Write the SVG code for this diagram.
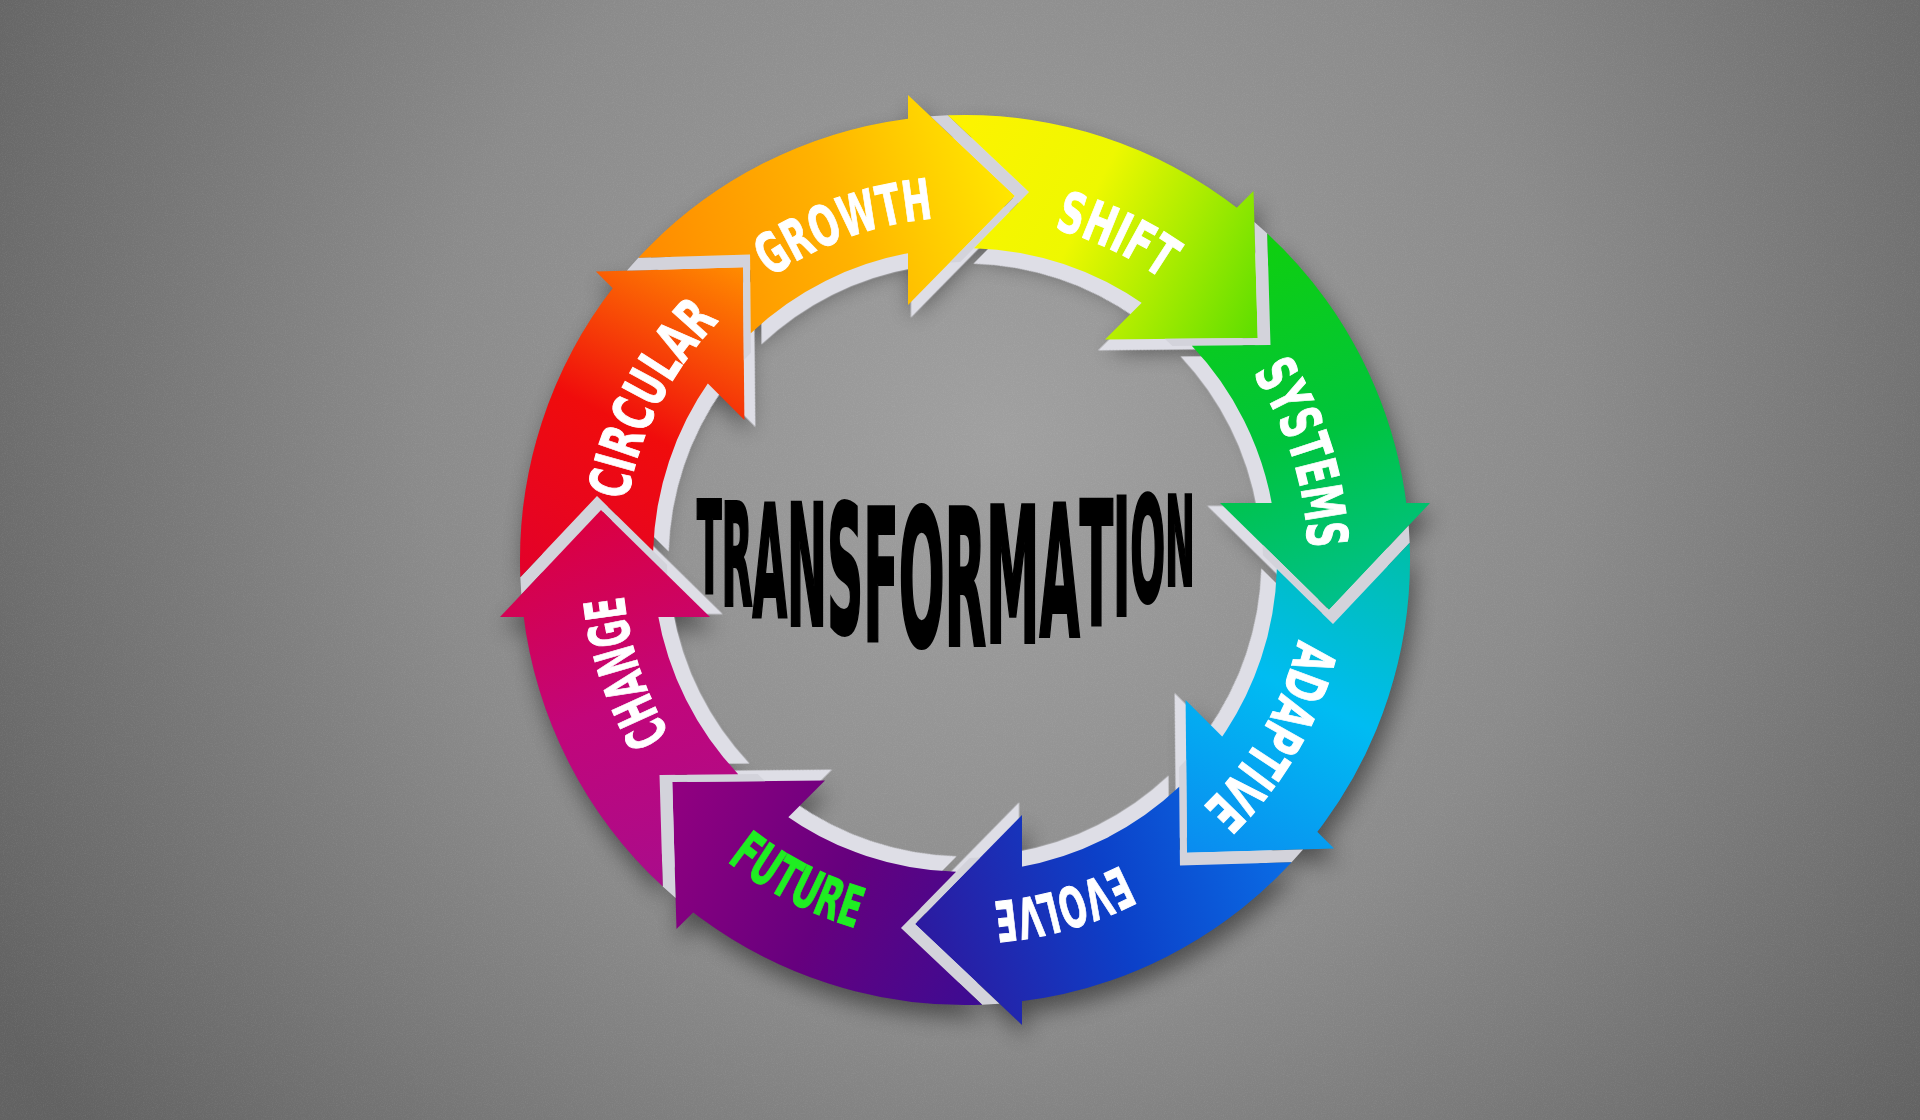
<svg xmlns="http://www.w3.org/2000/svg" width="1920" height="1120" viewBox="0 0 1920 1120">
<style>
.lbl{font-family:"DejaVu Sans","Liberation Sans",sans-serif;font-weight:bold;font-size:56px;fill:#ffffff;stroke:#ffffff;stroke-width:1}
.title{font-family:"DejaVu Sans","Liberation Sans",sans-serif;font-weight:bold;fill:#000000;stroke:#000000;stroke-width:4}
.band{fill:#d3d3db}
.wall{fill:#dedee6}
</style>
<defs>
<radialGradient id="bg" gradientUnits="userSpaceOnUse" cx="1000" cy="440" r="1150">
<stop offset="0" stop-color="#a0a0a0"/><stop offset="0.5" stop-color="#8b8b8b"/><stop offset="1" stop-color="#626262"/>
</radialGradient>
<filter id="noise" x="0" y="0" width="100%" height="100%">
<feTurbulence type="fractalNoise" baseFrequency="0.9" numOctaves="2" seed="4"/>
<feColorMatrix type="matrix" values="0 0 0 0 1 0 0 0 0 1 0 0 0 0 1 1.4 0 0 0 -0.62"/>
</filter>
<filter id="soft" x="-20%" y="-20%" width="140%" height="140%"><feGaussianBlur stdDeviation="11"/></filter>
<path id="shaft" d="M638.39 257.75 A445 445 0 0 1 912 118.17 L912 252.53 A312 312 0 0 0 750.77 333.19 L750.04 254.53 Z"/>
<path id="head" d="M908 95 L1015 196 L908 305 Z"/>
<path id="band" d="M626.95 270.6 L742.97 267.26 L743.83 360.27 L750.95 352.67 L750.04 254.53 L638.39 257.75 Z"/>
<path id="cw" d="M965 217 A343 343 0 1 1 965 903 A343 343 0 1 1 965 217" fill="none"/>
<path id="ccw" d="M965 176 A384 384 0 1 0 965 944 A384 384 0 1 0 965 176" fill="none"/>
<linearGradient id="g-circular" gradientUnits="userSpaceOnUse" x1="650" y1="310" x2="1010" y2="190"><stop offset="0" stop-color="#e2002c"/><stop offset="0.5" stop-color="#f00c0c"/><stop offset="1" stop-color="#ff8a00"/></linearGradient>
<linearGradient id="g-growth" gradientUnits="userSpaceOnUse" x1="650" y1="310" x2="1010" y2="190"><stop offset="0" stop-color="#ff8800"/><stop offset="0.55" stop-color="#ffb300"/><stop offset="1" stop-color="#ffe600"/></linearGradient>
<linearGradient id="g-shift" gradientUnits="userSpaceOnUse" x1="650" y1="310" x2="1010" y2="190"><stop offset="0" stop-color="#fff200"/><stop offset="0.45" stop-color="#eef800"/><stop offset="1" stop-color="#5ede00"/></linearGradient>
<linearGradient id="g-systems" gradientUnits="userSpaceOnUse" x1="650" y1="310" x2="1010" y2="190"><stop offset="0" stop-color="#10d00c"/><stop offset="0.55" stop-color="#00c43c"/><stop offset="1" stop-color="#00c08c"/></linearGradient>
<linearGradient id="g-adaptive" gradientUnits="userSpaceOnUse" x1="650" y1="310" x2="1010" y2="190"><stop offset="0" stop-color="#00bfa4"/><stop offset="0.5" stop-color="#00bcf2"/><stop offset="1" stop-color="#0a8cf0"/></linearGradient>
<linearGradient id="g-evolve" gradientUnits="userSpaceOnUse" x1="650" y1="310" x2="1010" y2="190"><stop offset="0" stop-color="#0a6ee6"/><stop offset="0.5" stop-color="#0c40c8"/><stop offset="1" stop-color="#2c1aa0"/></linearGradient>
<linearGradient id="g-future" gradientUnits="userSpaceOnUse" x1="650" y1="310" x2="1010" y2="190"><stop offset="0" stop-color="#3a0c94"/><stop offset="0.5" stop-color="#66007e"/><stop offset="1" stop-color="#920080"/></linearGradient>
<linearGradient id="g-change" gradientUnits="userSpaceOnUse" x1="650" y1="310" x2="1010" y2="190"><stop offset="0" stop-color="#a80c8c"/><stop offset="0.5" stop-color="#c2067a"/><stop offset="1" stop-color="#dc0040"/></linearGradient>
</defs>

<g id="background">
<rect width="1920" height="1120" fill="url(#bg)"/>
<rect width="1920" height="1120" filter="url(#noise)" opacity="0.1"/>
</g>

<g id="shadow" filter="url(#soft)" opacity="0.45" fill="#000">
<g transform="translate(4 12)">
<g transform="rotate(-45 965 560)"><use href="#shaft"/><use href="#head"/></g>
<g><use href="#shaft"/><use href="#head"/></g>
<g transform="rotate(45 965 560)"><use href="#shaft"/><use href="#head"/></g>
<g transform="rotate(90 965 560)"><use href="#shaft"/><use href="#head"/></g>
<g transform="rotate(135 965 560)"><use href="#shaft"/><use href="#head"/></g>
<g transform="rotate(180 965 560)"><use href="#shaft"/><use href="#head"/></g>
<g transform="rotate(225 965 560)"><use href="#shaft"/><use href="#head"/></g>
<g transform="rotate(270 965 560)"><use href="#shaft"/><use href="#head"/></g>
</g>
</g>

<g id="walls" class="wall">
<g transform="translate(965 560) scale(0.95) translate(-965 -560)">
<g transform="rotate(-45 965 560)"><use href="#shaft"/><use href="#head"/></g>
<g><use href="#shaft"/><use href="#head"/></g>
<g transform="rotate(45 965 560)"><use href="#shaft"/><use href="#head"/></g>
<g transform="rotate(90 965 560)"><use href="#shaft"/><use href="#head"/></g>
<g transform="rotate(135 965 560)"><use href="#shaft"/><use href="#head"/></g>
<g transform="rotate(180 965 560)"><use href="#shaft"/><use href="#head"/></g>
<g transform="rotate(225 965 560)"><use href="#shaft"/><use href="#head"/></g>
<g transform="rotate(270 965 560)"><use href="#shaft"/><use href="#head"/></g>
</g>
</g>

<g id="node-circular">
<g transform="rotate(-45 965 560)"><use href="#band" class="band"/><use href="#shaft" fill="url(#g-circular)"/><use href="#head" fill="url(#g-circular)"/></g>
<text class="lbl" text-anchor="middle"><textPath href="#cw" startOffset="1778" textLength="205" lengthAdjust="spacingAndGlyphs">CIRCULAR</textPath></text>
</g>
<g id="node-growth">
<g><use href="#band" class="band"/><use href="#shaft" fill="url(#g-growth)"/><use href="#head" fill="url(#g-growth)"/></g>
<text class="lbl" text-anchor="middle"><textPath href="#cw" startOffset="2035" textLength="175" lengthAdjust="spacingAndGlyphs">GROWTH</textPath></text>
</g>
<g id="node-shift">
<g transform="rotate(45 965 560)"><use href="#band" class="band"/><use href="#shaft" fill="url(#g-shift)"/><use href="#head" fill="url(#g-shift)"/></g>
<text class="lbl" text-anchor="middle"><textPath href="#cw" startOffset="150" textLength="120" lengthAdjust="spacingAndGlyphs">SHIFT</textPath></text>
</g>
<g id="node-systems">
<g transform="rotate(90 965 560)"><use href="#band" class="band"/><use href="#shaft" fill="url(#g-systems)"/><use href="#head" fill="url(#g-systems)"/></g>
<text class="lbl" text-anchor="middle"><textPath href="#cw" startOffset="434" textLength="186" lengthAdjust="spacingAndGlyphs">SYSTEMS</textPath></text>
</g>
<g id="node-adaptive">
<g transform="rotate(135 965 560)"><use href="#band" class="band"/><use href="#shaft" fill="url(#g-adaptive)"/><use href="#head" fill="url(#g-adaptive)"/></g>
<text class="lbl" text-anchor="middle"><textPath href="#cw" startOffset="717" textLength="196" lengthAdjust="spacingAndGlyphs">ADAPTIVE</textPath></text>
</g>
<g id="node-evolve">
<g transform="rotate(180 965 560)"><use href="#band" class="band"/><use href="#shaft" fill="url(#g-evolve)"/><use href="#head" fill="url(#g-evolve)"/></g>
<text class="lbl" text-anchor="middle"><textPath href="#cw" startOffset="982" textLength="134" lengthAdjust="spacingAndGlyphs">EVOLVE</textPath></text>
</g>
<g id="node-future">
<g transform="rotate(225 965 560)"><use href="#band" class="band"/><use href="#shaft" fill="url(#g-future)"/><use href="#head" fill="url(#g-future)"/></g>
<text class="lbl" text-anchor="middle" style="fill:#1fee22;stroke:#1fee22"><textPath href="#ccw" startOffset="1022" textLength="146" lengthAdjust="spacingAndGlyphs">FUTURE</textPath></text>
</g>
<g id="node-change">
<g transform="rotate(270 965 560)"><use href="#band" class="band"/><use href="#shaft" fill="url(#g-change)"/><use href="#head" fill="url(#g-change)"/></g>
<text class="lbl" text-anchor="middle"><textPath href="#cw" startOffset="1506" textLength="148" lengthAdjust="spacingAndGlyphs">CHANGE</textPath></text>
</g>

<g id="node-center">
<text class="title" x="0" transform="translate(697 0) scale(0.2856 1)" vector-effect="non-scaling-stroke"><tspan y="592" font-size="126">T</tspan><tspan y="605" font-size="141">R</tspan><tspan y="617" font-size="156">A</tspan><tspan y="625" font-size="167">N</tspan><tspan y="633" font-size="176">S</tspan><tspan y="640" font-size="182">F</tspan><tspan y="645" font-size="189">O</tspan><tspan y="645" font-size="189">R</tspan><tspan y="642" font-size="188">M</tspan><tspan y="636" font-size="182">A</tspan><tspan y="625" font-size="171">T</tspan><tspan y="615" font-size="162">I</tspan><tspan y="601" font-size="144">O</tspan><tspan y="585" font-size="123">N</tspan></text>
</g>
</svg>
